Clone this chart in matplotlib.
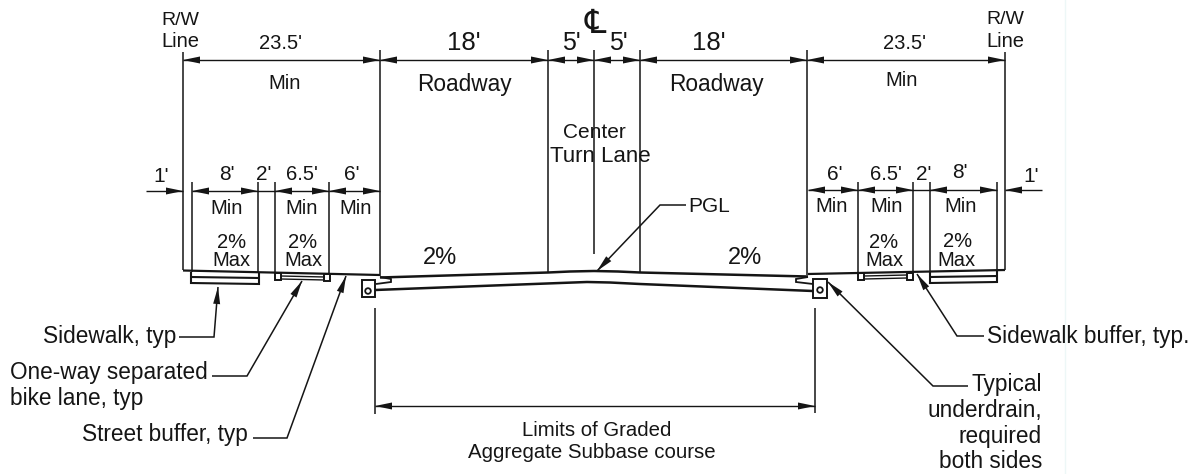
import math
import matplotlib
matplotlib.use('Agg')
import matplotlib.pyplot as plt

plt.rcParams['font.family'] = ['Liberation Sans', 'DejaVu Sans']

# vertical witness lines: x, top y, bottom y
verticales = [
    (183, 52, 270), (380, 50, 276), (548, 50, 272), (594, 50, 254), (640, 50, 272),
    (807, 50, 275), (1005, 52, 270),
    (192, 182, 272), (258, 182, 272), (275, 182, 272), (329, 182, 273),
    (858, 182, 272), (913, 182, 272), (930, 182, 272), (997, 182, 270),
    (375, 308, 414), (815, 308, 413),
]

# dimension lines: x1, x2, y
cotas = [
    (183, 380, 60), (380, 548, 60), (548, 594, 60), (594, 640, 60), (640, 807, 60), (807, 1005, 60),
    (192, 258, 191), (275, 329, 191), (329, 380, 191),
    (808, 858, 190), (858, 913, 190), (930, 997, 190),
    (375, 815, 406),
]

# single arrows from outside
flechas_uno = [((146, 191), (183, 191)), ((1042, 190), (1005, 190))]
extras = [((258, 275), (191, 191)), ((913, 930), (190, 190))]

# leaders: polyline ends on the arrow tip
lideres = [
    [(179, 337), (214, 337), (218, 287)],
    [(212, 376), (247, 376), (302, 281)],
    [(253, 438), (287, 438), (346, 276)],
    [(984, 336), (957, 336), (917, 274)],
    [(968, 386), (933, 386), (828, 282)],
    [(686, 205), (660, 205), (597, 271)],
]

# section outline
rasante_izq = [(183, 270.5), (380, 275)]
rasante_der = [(808, 274), (1005, 270)]
calzada_sup = [(380, 277.5), (548, 272.5), (570, 271.5), (594, 271), (618, 271.5), (640, 272.5), (808, 276.5)]
calzada_inf = [(375, 290), (560, 283), (587, 282), (610, 282.5), (640, 284), (813, 291)]
bordillo_izq = [(380, 277), (391, 279), (391, 282), (376, 284)]
bordillo_der = [(808, 277), (796, 279), (796, 282), (813, 284)]
acera_izq = [(191, 272), (191, 283), (259, 284), (259, 272)]
acera_izq_2 = [(191, 277), (259, 278)]
acera_der = [(930, 272), (930, 283), (997, 282), (997, 271)]
acera_der_2 = [(930, 277), (997, 276)]
cajas = [(275, 273, 6, 7), (324, 274, 6, 7), (858, 273, 6, 7), (907, 273, 6, 7)]
cajas_dren = [(362, 280, 13, 17), (813, 279, 14, 19)]
tubos = [(368, 291), (820, 290)]
carril_bici = [(281, 325, 276, 277), (281, 325, 279, 280), (864, 907, 276, 275), (864, 907, 279, 278)]

# text, x, y, font size
textos = [
    ("R/W", 180, 20, 14), ("Line", 180, 41, 14.5), ("R/W", 1005, 19, 14), ("Line", 1005, 41, 14.5),
    ("23.5'", 281, 43, 14.5), ("Min", 285, 83, 14.5), ("23.5'", 905, 43, 14.5), ("Min", 902, 80, 14.5),
    ("5'", 571, 43, 18), ("5'", 618, 43, 18), ("18'", 464, 43, 18.5), ("18'", 709, 43, 18.5),
    ("Roadway", 464, 84, 16.3), ("Roadway", 716, 84, 16.3),
    ("Center", 594, 132, 15), ("Turn Lane", 600, 156, 16),
    ("1'", 161, 177, 15), ("8'", 227, 175, 15), ("2'", 264, 175, 15), ("6.5'", 302, 175, 14.5), ("6'", 352, 175, 15),
    ("Min", 227, 208, 14.5), ("Min", 302, 208, 14.5), ("Min", 356, 208, 14.5),
    ("2%", 232, 242, 14.5), ("Max", 231, 261, 14.5), ("2%", 303, 242, 14.5), ("Max", 303, 261, 14.5),
    ("2%", 440, 258, 17), ("2%", 745, 258, 17),
    ("6'", 835, 175, 15), ("6.5'", 886, 175, 14.5), ("2'", 924, 174, 15), ("8'", 960, 173, 15), ("1'", 1031, 177, 15),
    ("Min", 832, 206, 14.5), ("Min", 887, 206, 14.5), ("Min", 961, 206, 14.5),
    ("2%", 884, 242, 14.5), ("Max", 884, 260, 14.5), ("2%", 958, 241, 14.5), ("Max", 956, 260, 14.5),
    ("\u2104", 595, 24, 24),
    ("Limits of Graded", 597, 430, 14.7), ("Aggregate Subbase course", 592, 453, 14.7),
    ("PGL", 709, 206, 15),
]
textos_der = [
    ("Sidewalk, typ", 176, 337), ("Street buffer, typ", 248, 435),
    ("Typical", 1042, 385), ("underdrain,", 1042, 411), ("required", 1042, 436), ("both sides", 1042, 461),
]
textos_izq = [
    ("One-way separated", 10, 372), ("bike lane, typ", 10, 398),
    ("Sidewalk buffer, typ.", 987, 337),
]

fig = plt.figure(figsize=(12, 4.74), dpi=100)
ax = fig.add_axes([0, 0, 1, 1])
ax.set_xlim(0, 1200)
ax.set_ylim(474, 0)
ax.axis('off')

negro = '#151515'


def linea(puntos, lw=1.1):
    xs = [p[0] for p in puntos]
    ys = [p[1] for p in puntos]
    ax.plot(xs, ys, color=negro, lw=lw, solid_capstyle='butt', solid_joinstyle='miter')


def flecha(desde, punta, largo=17, ancho=3.5):
    ang = math.atan2(punta[1] - desde[1], punta[0] - desde[0])
    bx = punta[0] - largo * math.cos(ang)
    by = punta[1] - largo * math.sin(ang)
    nx, ny = -math.sin(ang), math.cos(ang)
    ax.fill([punta[0], bx + ancho * nx, bx - ancho * nx],
            [punta[1], by + ancho * ny, by - ancho * ny], color=negro, lw=0)


for x, y1, y2 in verticales:
    linea([(x, y1), (x, y2)], 1.1)

for x1, x2, y in cotas:
    linea([(x1, y), (x2, y)], 1.0)
    flecha((x2, y), (x1, y))
    flecha((x1, y), (x2, y))

for desde, punta in flechas_uno:
    linea([desde, punta], 1.0)
    flecha(desde, punta)

for xs, ys in extras:
    ax.plot(xs, ys, color=negro, lw=1.0)

for puntos in lideres:
    linea(puntos, 1.1)
    flecha(puntos[-2], puntos[-1])

linea(rasante_izq, 1.6)
linea(rasante_der, 1.6)
linea(calzada_sup, 1.8)
linea(calzada_inf, 1.8)
linea(bordillo_izq, 1.3)
linea(bordillo_der, 1.3)
linea(acera_izq, 1.5)
linea(acera_izq_2, 1.5)
linea(acera_der, 1.5)
linea(acera_der_2, 1.5)

for x1, x2, y1, y2 in carril_bici:
    linea([(x1, y1), (x2, y2)], 1.0)

for x, y, w, h in cajas + cajas_dren:
    ax.add_patch(plt.Rectangle((x, y), w, h, fill=False, ec=negro, lw=1.4))

for x, y in tubos:
    ax.add_patch(plt.Circle((x, y), 2.8, fill=False, ec=negro, lw=1.3))

# faint scan edge on the right
ax.plot([1065, 1065], [0, 474], color='#edf7f7', lw=1)

for t, x, y, s in textos:
    ax.text(x, y, t, ha='center', va='center', fontsize=s, color=negro)
for t, x, y in textos_der:
    ax.text(x, y, t, ha='right', va='center', fontsize=16.3, color=negro)
for t, x, y in textos_izq:
    ax.text(x, y, t, ha='left', va='center', fontsize=16.3, color=negro)

fig.savefig('out.png', dpi=100)
